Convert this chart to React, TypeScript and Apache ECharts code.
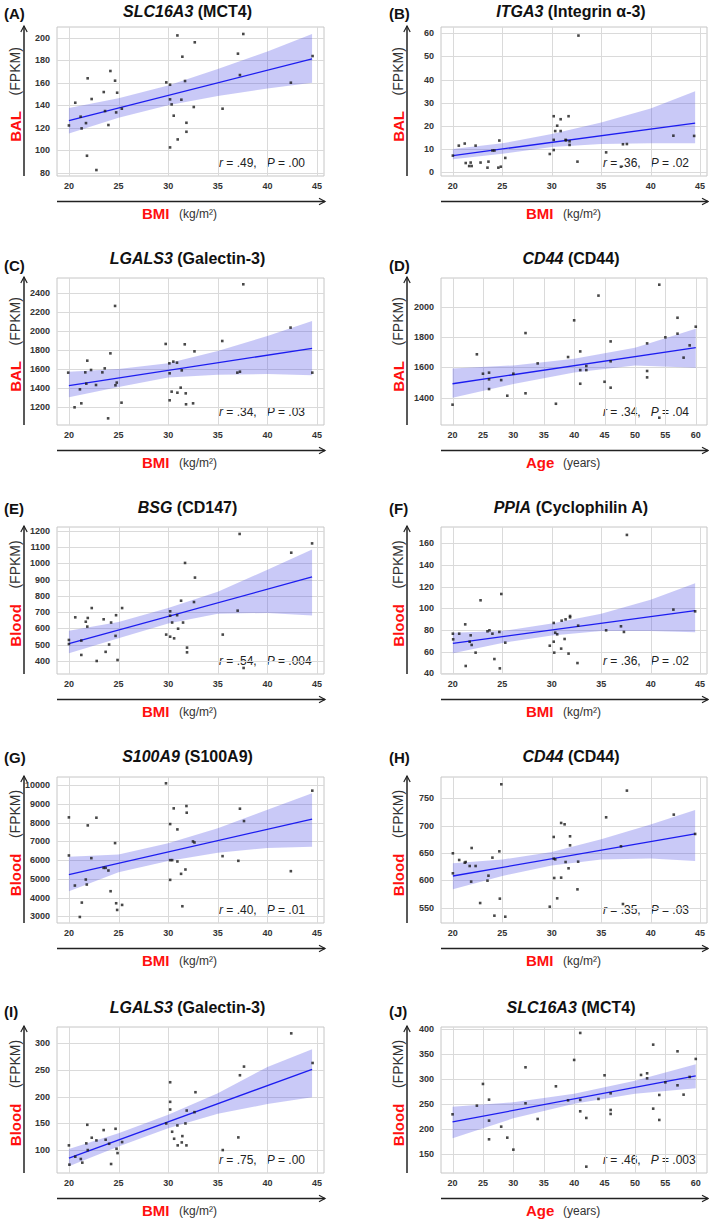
import React, { useEffect, useRef } from "react";
import * as echarts from "echarts";

const FONT = '"Liberation Sans", Arial, Helvetica, sans-serif';

// ---------- shared ticks ----------
const bmiTicks = [20, 25, 30, 35, 40, 45];
const ageTicks = [20, 25, 30, 35, 40, 45, 50, 55, 60];
const bmiBandX = [20, 25, 30, 35, 40, 44.5];
const ageBandX = [20, 30, 40, 50, 60];
const bmiFitX = [20, 44.5];
const ageFitX = [20, 60];

// ---------- (A) BAL SLC16A3 vs BMI ----------
const aX = [20.0, 20.64, 21.18, 21.28, 21.72, 21.89, 21.82, 22.29, 22.77, 23.51, 23.64, 23.98, 24.18, 24.65, 24.76, 24.86, 25.33, 29.81, 30.19, 30.19, 30.19, 30.35, 30.56, 30.93, 30.96, 31.33, 31.43, 31.7, 31.84, 31.84, 32.58, 32.68, 35.48, 37.03, 37.23, 37.57, 42.36, 44.55];
const aY = [122, 142.2, 129.8, 119.4, 124.1, 163.9, 95.1, 145.5, 82.4, 151.7, 134.8, 122.4, 170.4, 161.8, 133.6, 151.1, 136.9, 160.3, 158.2, 145.2, 102.5, 140.7, 130.7, 202, 109.6, 144.9, 183.1, 161.5, 124.4, 116.4, 138.4, 195.9, 136.9, 185.8, 166.8, 203.3, 160, 183.7];
const aTicks = [80, 100, 120, 140, 160, 180, 200];
const aFit = [126.2, 181.2];
const aLo = [114.8, 128.8, 140, 148.1, 154.8, 159.9];
const aHi = [137.6, 146.2, 157.6, 172.1, 187.8, 203.3];

// ---------- (B) BAL ITGA3 vs BMI ----------
const bX = [20, 20.6, 21.2, 21.3, 21.65, 21.8, 21.9, 22.3, 22.8, 23.5, 23.6, 24.0, 24.2, 24.7, 24.6, 24.85, 25.3, 29.8, 30.2, 30.2, 30.2, 30.35, 30.55, 30.9, 30.9, 31.4, 31.45, 31.7, 31.8, 31.8, 32.6, 32.7, 35.5, 37.0, 37.2, 37.6, 42.3, 44.4];
const bY = [7.2, 11.5, 12.4, 4.0, 2.7, 4.2, 2.7, 11.5, 4.2, 2.0, 4.6, 9.4, 9.4, 13.7, 2.0, 2.4, 6.2, 7.9, 14.0, 9.6, 24.2, 17.8, 20.1, 22.9, 17.8, 14.0, 13.8, 24.2, 13.4, 11.8, 4.6, 59, 8.6, 2.4, 12.1, 12.2, 15.8, 15.7];
const bTicks = [0, 10, 20, 30, 40, 50, 60];
const bFit = [7.2, 21.2];
const bLo = [5.6, 8.0, 10.9, 12.2, 12.5, 12.5];
const bHi = [10.1, 12.5, 16.5, 21.5, 27.5, 35.0];

// ---------- (C) BAL LGALS3 vs BMI ----------
const cX = [19.93, 20.57, 21.11, 21.25, 21.65, 21.85, 21.75, 22.23, 22.73, 23.37, 23.61, 23.95, 24.18, 24.65, 24.69, 24.82, 25.3, 29.75, 30.12, 30.15, 30.15, 30.35, 30.52, 30.89, 30.93, 31.26, 31.37, 31.67, 31.77, 31.8, 32.51, 32.65, 35.45, 36.97, 37.23, 37.57, 42.33, 44.52];
const cY = [1565, 1200, 1389, 1242, 1568, 1691, 1449, 1593, 1435, 1568, 1610, 1084, 1768, 2267, 1432, 1460, 1249, 1867, 1663, 1558, 1274, 1365, 1681, 1670, 1354, 1407, 1589, 1863, 1347, 1232, 1242, 1789, 1898, 1565, 1575, 2495, 2039, 1565];
const cTicks = [1200, 1400, 1600, 1800, 2000, 2200, 2400];
const cFit = [1428, 1821];
const cLo = [1305, 1413, 1513, 1543, 1550, 1537];
const cHi = [1575, 1603, 1663, 1793, 1950, 2109];

// ---------- (D) BAL CD44 vs Age ----------
const dX = [20, 24, 25, 26, 26, 26, 28, 29, 30, 32, 32, 34, 37, 39, 40, 41, 41, 41, 42, 42, 44, 45, 46, 46, 46, 52, 52, 52, 54, 54, 55, 57, 57, 58, 59, 60];
const dY = [1354, 1686, 1558, 1565, 1521, 1457, 1516, 1413, 1558, 1826, 1429, 1626, 1360, 1668, 1910, 1705, 1582, 1492, 1609, 1582, 2073, 1505, 1771, 1640, 1466, 1758, 1576, 1534, 2145, 1268, 1798, 1927, 1822, 1664, 1745, 1868];
const dTicks = [1400, 1600, 1800, 2000];
const dFit = [1492, 1730];
const dLo = [1400, 1490, 1566, 1612, 1598];
const dHi = [1593, 1613, 1656, 1730, 1855];

// ---------- (E) Blood BSG vs BMI ----------
const eX = [20, 20, 20.64, 21.25, 21.25, 21.7, 21.85, 21.9, 22.3, 22.8, 23.5, 23.7, 24.05, 24.25, 24.75, 24.7, 24.9, 25.36, 29.8, 30.2, 30.2, 30.2, 30.4, 30.6, 30.9, 31.0, 31.3, 31.5, 31.7, 31.9, 31.9, 32.6, 32.7, 35.5, 37.0, 37.2, 37.6, 42.4, 44.5];
const eY = [529, 504, 668, 525, 437, 641, 611, 664, 725, 400, 656, 456, 501, 636, 681, 554, 406, 725, 562, 705, 549, 678, 636, 539, 681, 598, 770, 636, 1002, 482, 453, 762, 912, 562, 709, 1180, 357, 1065, 1122];
const eTicks = [400, 500, 600, 700, 800, 900, 1000, 1100, 1200];
const eFit = [507, 916];
const eLo = [447, 540, 630, 690, 695, 680];
const eHi = [586, 640, 725, 825, 960, 1085];

// ---------- (F) Blood PPIA vs BMI ----------
const fX = [20, 20.03, 20.64, 21.25, 21.3, 21.8, 21.7, 21.9, 22.3, 22.8, 23.5, 23.7, 24.0, 24.2, 24.7, 24.75, 24.9, 25.3, 29.8, 30.2, 30.2, 30.25, 30.35, 30.55, 30.95, 31.0, 31.3, 31.4, 31.7, 31.85, 31.85, 32.6, 32.67, 35.5, 37.0, 37.3, 37.6, 42.3, 44.5];
const fY = [76.6, 71.4, 76.6, 85.2, 46.8, 75.1, 69.2, 66.2, 59.1, 107.4, 78.8, 79.7, 76.6, 53.2, 78.2, 44.6, 113.2, 68.3, 65.5, 86.5, 69.2, 59.1, 77.5, 76, 62.8, 88.6, 71.7, 89.8, 58.2, 91.7, 92.9, 49.5, 84, 79.7, 83.4, 78.2, 167.7, 98.8, 97.2];
const fTicks = [40, 60, 80, 100, 120, 140, 160];
const fFit = [67.7, 97.8];
const fLo = [58.5, 68, 75, 79, 79, 78];
const fHi = [77.5, 79, 86, 95, 108, 123];

// ---------- (G) Blood S100A9 vs BMI ----------
const gX = [20, 20, 20.6, 21.1, 21.3, 21.7, 21.8, 21.9, 22.26, 22.77, 23.5, 23.7, 23.98, 24.2, 24.65, 24.76, 24.86, 25.36, 29.78, 30.2, 30.2, 30.4, 30.2, 30.56, 30.93, 30.93, 31.3, 31.43, 31.74, 31.84, 31.87, 32.5, 32.65, 35.48, 37.07, 37.23, 37.64, 42.36, 44.52];
const gY = [8286, 6250, 4643, 2964, 3732, 4964, 4696, 7857, 6107, 8268, 5589, 5589, 5446, 4339, 6911, 3696, 3339, 3607, 10107, 7929, 6000, 6000, 4946, 8768, 7643, 5929, 5268, 3536, 5500, 8893, 8536, 7000, 6946, 6214, 5964, 8750, 8089, 5411, 9714];
const gTicks = [3000, 4000, 5000, 6000, 7000, 8000, 9000, 10000];
const gFit = [5232, 8196];
const gLo = [4339, 5350, 5950, 6400, 6650, 6714];
const gHi = [6179, 6300, 6900, 7700, 8700, 9571];

// ---------- (H) Blood CD44 vs BMI ----------
const hX = [20, 20, 20.64, 21.2, 21.3, 21.7, 21.85, 21.9, 22.3, 22.76, 23.5, 23.6, 24.0, 24.2, 24.7, 24.75, 24.9, 25.3, 29.8, 30.2, 30.2, 30.35, 30.25, 30.55, 30.95, 30.95, 31.3, 31.4, 31.7, 31.85, 31.85, 32.6, 32.67, 35.5, 37.0, 37.2, 37.6, 42.34, 44.5];
const hY = [649.4, 612.8, 637.2, 632.3, 633.5, 626.2, 597.6, 659.1, 626.2, 558.5, 599.4, 608.5, 641.5, 535.4, 653, 566.5, 775.6, 533.5, 551.8, 679.3, 639.6, 638.4, 604.3, 567.1, 704.9, 604.9, 702.4, 633.5, 622, 680.5, 664, 583.5, 634.1, 715.2, 662.2, 556.7, 764, 720.1, 684.8];
const hTicks = [550, 600, 650, 700, 750];
const hFit = [607.9, 684.8];
const hLo = [583.5, 608, 627, 638, 640, 635.4];
const hHi = [631, 638, 652, 675, 702, 728.7];

// ---------- (I) Blood LGALS3 vs BMI ----------
const iX = [20, 20.05, 20.64, 21.2, 21.35, 21.75, 21.85, 21.9, 22.3, 22.77, 23.5, 23.7, 24.05, 24.25, 24.7, 24.8, 24.9, 25.36, 29.8, 30.2, 30.2, 30.2, 30.4, 30.6, 30.93, 30.96, 31.37, 31.43, 31.74, 31.84, 31.87, 32.65, 32.75, 35.5, 37.07, 37.23, 37.64, 42.4, 44.55];
const iY = [109.3, 73.5, 88.3, 84, 77.2, 113, 147.5, 100.6, 123.5, 118.5, 137.7, 119.8, 112.3, 74.7, 140.1, 103.1, 95, 115.4, 150, 226.5, 190.1, 175.9, 134.6, 121.6, 146.3, 109.3, 114.8, 126.5, 150, 109.3, 174, 171, 208, 100.6, 124.1, 239.5, 255.6, 317.3, 262.3];
const iTicks = [100, 150, 200, 250, 300];
const iFit = [85.8, 250.5];
const iLo = [70.4, 107, 141, 168, 186, 198.8];
const iHi = [102.5, 132, 166, 206, 255, 287.7];

// ---------- (J) Blood SLC16A3 vs Age ----------
const jX = [20, 24, 25, 26, 26, 26, 28, 29, 30, 32, 32, 34, 37, 39, 40, 41, 41, 41, 42, 42, 44, 45, 46, 46, 46, 51, 52, 52, 53, 53, 54, 54, 55, 57, 57, 58, 59, 60];
const jY = [230, 247.3, 290.7, 259.3, 217.3, 180, 205.3, 183.3, 159.3, 324, 252, 220.7, 286, 258, 338.7, 392.7, 258.7, 236, 222.7, 125.3, 260.7, 308, 272, 238.7, 230.7, 308.7, 312, 302, 369.3, 241.3, 268.7, 218.7, 294, 356, 288, 269.3, 304.7, 340.7];
const jTicks = [150, 200, 250, 300, 350, 400];
const jFit = [214.7, 306.7];
const jLo = [182, 222, 251, 271, 282];
const jHi = [245.3, 254, 271, 297, 330];

// ---------- panel text ----------
const letters = ["A", "B", "C", "D", "E", "F", "G", "H", "I", "J"];
const genes = ["SLC16A3", "ITGA3", "LGALS3", "CD44", "BSG", "PPIA", "S100A9", "CD44", "LGALS3", "SLC16A3"];
const proteins = ["MCT4", "Integrin α-3", "Galectin-3", "CD44", "CD147", "Cyclophilin A", "S100A9", "CD44", "Galectin-3", "MCT4"];
const samples = ["BAL", "BAL", "BAL", "BAL", "Blood", "Blood", "Blood", "Blood", "Blood", "Blood"];
const rVals = [".49", ".36", ".34", ".34", ".54", ".36", ".40", ".35", ".75", ".46"];
const pVals = [".00", ".02", ".03", ".04", ".004", ".02", ".01", ".03", ".00", ".003"];
const isAge = [false, false, false, true, false, false, false, false, false, true];
const yRanges = [
  [77.1, 209.5], [-1.6, 62.7], [1014, 2561], [1220, 2189], [320, 1222.7],
  [39.4, 175], [2641, 10444], [522, 788.9], [58, 329.1], [112.6, 404.6],
];

const panelsData = [
  { xs: aX, ys: aY, ticks: aTicks, fit: aFit, lo: aLo, hi: aHi },
  { xs: bX, ys: bY, ticks: bTicks, fit: bFit, lo: bLo, hi: bHi },
  { xs: cX, ys: cY, ticks: cTicks, fit: cFit, lo: cLo, hi: cHi },
  { xs: dX, ys: dY, ticks: dTicks, fit: dFit, lo: dLo, hi: dHi },
  { xs: eX, ys: eY, ticks: eTicks, fit: eFit, lo: eLo, hi: eHi },
  { xs: fX, ys: fY, ticks: fTicks, fit: fFit, lo: fLo, hi: fHi },
  { xs: gX, ys: gY, ticks: gTicks, fit: gFit, lo: gLo, hi: gHi },
  { xs: hX, ys: hY, ticks: hTicks, fit: hFit, lo: hLo, hi: hHi },
  { xs: iX, ys: iY, ticks: iTicks, fit: iFit, lo: iLo, hi: iHi },
  { xs: jX, ys: jY, ticks: jTicks, fit: jFit, lo: jLo, hi: jHi },
];

// ---------- layout ----------
const rows = [
  { top: 27, h: 149, titleY: 11, letterY: 13 },
  { top: 278, h: 147, titleY: 258, letterY: 265 },
  { top: 527, h: 147, titleY: 507, letterY: 508 },
  { top: 777, h: 146, titleY: 756, letterY: 757 },
  { top: 1027, h: 146, titleY: 1007, letterY: 1011 },
];
const cols = [
  { left: 57, w: 267, arrowX: 24, labelX: 15, letterX: 4 },
  { left: 441, w: 266, arrowX: 407, labelX: 398, letterX: 389 },
];

function buildOption() {
  const grid: any[] = [];
  const xAxis: any[] = [];
  const yAxis: any[] = [];
  const series: any[] = [];
  const graphic: any[] = [];
  const INK = "#222";
  const GRIDLINE = "#dadada";

  panelsData.forEach((p, i) => {
    const col = cols[i % 2];
    const row = rows[Math.floor(i / 2)];
    const L = col.left, W = col.w, T = row.top, H = row.h;
    const B = T + H, R = L + W;
    const age = isAge[i];
    const xTicks = age ? ageTicks : bmiTicks;
    const bandX = age ? ageBandX : bmiBandX;
    const fitX = age ? ageFitX : bmiFitX;
    const xMin = age ? 18.1 : 18.8;
    const xMax = age ? 61.85 : 45.7;
    const [yMin, yMax] = yRanges[i];

    grid.push({
      left: L, top: T, width: W, height: H,
      show: true, backgroundColor: "#fff", borderColor: "#c6c6c6", borderWidth: 1,
      containLabel: false, outerBoundsMode: "none",
    });
    const labelStyle = { fontSize: 9, fontWeight: "bold", fontFamily: FONT, color: "#333", formatter: (v: number) => String(v) };
    xAxis.push({
      type: "value", gridIndex: i, min: xMin, max: xMax,
      axisLine: { show: false },
      axisTick: { show: false, customValues: xTicks },
      axisLabel: { ...labelStyle, customValues: xTicks, margin: 5 },
      splitLine: { show: false },
    });
    yAxis.push({
      type: "value", gridIndex: i, min: yMin, max: yMax,
      axisLine: { show: false },
      axisTick: { show: false, customValues: p.ticks },
      axisLabel: { ...labelStyle, customValues: p.ticks, margin: 7 },
      splitLine: { show: false },
    });

    // vertical grid lines at x ticks
    series.push({
      type: "custom", xAxisIndex: i, yAxisIndex: i, silent: true, z: 1,
      data: xTicks.map((v) => [v, yMin]),
      renderItem: (params: any, api: any) => {
        const cs = params.coordSys;
        const x = Math.round(api.coord([api.value(0), api.value(1)])[0]) + 0.5;
        return { type: "line", shape: { x1: x, y1: cs.y, x2: x, y2: cs.y + cs.height }, style: { stroke: GRIDLINE, lineWidth: 1 } };
      },
    });
    // horizontal grid lines at y ticks
    series.push({
      type: "custom", xAxisIndex: i, yAxisIndex: i, silent: true, z: 1,
      data: p.ticks.map((v) => [xMin, v]),
      renderItem: (params: any, api: any) => {
        const cs = params.coordSys;
        const y = Math.round(api.coord([api.value(0), api.value(1)])[1]) + 0.5;
        return { type: "line", shape: { x1: cs.x, y1: y, x2: cs.x + cs.width, y2: y }, style: { stroke: GRIDLINE, lineWidth: 1 } };
      },
    });
    // confidence band
    series.push({
      type: "custom", xAxisIndex: i, yAxisIndex: i, silent: true, z: 2,
      data: bandX.map((x, k) => [x, p.lo[k], p.hi[k]]),
      encode: { x: 0, y: [1, 2] },
      renderItem: (params: any, api: any) => {
        if (params.dataIndex !== 0) return null;
        const up = bandX.map((x, k) => api.coord([x, p.hi[k]]));
        const dn = bandX.map((x, k) => api.coord([x, p.lo[k]])).reverse();
        return { type: "polygon", shape: { points: up.concat(dn) }, style: { fill: "rgba(75,75,230,0.3)" } };
      },
    });
    series.push({
      type: "line", xAxisIndex: i, yAxisIndex: i, z: 3,
      data: fitX.map((x, k) => [x, p.fit[k]]),
      symbol: "none", silent: true,
      lineStyle: { color: "#1c1cf0", width: 1.3 },
    });
    series.push({
      type: "scatter", xAxisIndex: i, yAxisIndex: i, z: 4,
      data: p.xs.map((x, k) => [x, p.ys[k]]),
      symbol: "rect", symbolSize: 2.6,
      itemStyle: { color: "#1a1a1a" },
    });

    // panel letter
    graphic.push({
      type: "text", x: col.letterX, y: row.letterY,
      style: { text: `(${letters[i]})`, font: `bold 15px ${FONT}`, fill: "#111", align: "left", verticalAlign: "middle" },
    });
    // title
    graphic.push({
      type: "text", x: L + W / 2 - 3, y: row.titleY,
      style: {
        text: `{g|${genes[i]}}{b| (${proteins[i]})}`,
        align: "center", verticalAlign: "middle",
        rich: {
          g: { fontStyle: "italic", fontWeight: "bold", fontSize: 16, fontFamily: FONT, fill: "#111" },
          b: { fontWeight: "bold", fontSize: 16, fontFamily: FONT, fill: "#111" },
        },
      },
    });
    // y arrow
    graphic.push({ type: "line", shape: { x1: col.arrowX, y1: B, x2: col.arrowX, y2: T - 1 }, style: { stroke: INK, lineWidth: 1.5 } });
    graphic.push({
      type: "polyline",
      shape: { points: [[col.arrowX - 3.2, T + 5], [col.arrowX, T - 1], [col.arrowX + 3.2, T + 5]] },
      style: { stroke: INK, lineWidth: 1.2, fill: null },
    });
    // x arrow
    const ay = B + 25.5;
    graphic.push({ type: "line", shape: { x1: L, y1: ay, x2: R + 1, y2: ay }, style: { stroke: INK, lineWidth: 1.5 } });
    graphic.push({
      type: "polyline",
      shape: { points: [[R - 5, ay - 3.2], [R + 1, ay], [R - 5, ay + 3.2]] },
      style: { stroke: INK, lineWidth: 1.2, fill: null },
    });
    // y label
    graphic.push({
      type: "text", x: col.labelX, y: T + H / 2 - 7, rotation: Math.PI / 2,
      style: {
        text: `{r|${samples[i]}}{u|    (FPKM)}`,
        align: "center", verticalAlign: "middle",
        rich: {
          r: { fontSize: 15, fontWeight: "bold", fontFamily: FONT, fill: "#ff1010" },
          u: { fontSize: 14, fontFamily: FONT, fill: "#333" },
        },
      },
    });
    // x label
    graphic.push({
      type: "text", x: L + 85, y: B + 37,
      style: { text: age ? "Age" : "BMI", font: `bold 15px ${FONT}`, fill: "#ff1010", align: "left", verticalAlign: "middle" },
    });
    graphic.push({
      type: "text", x: L + 122, y: B + 38,
      style: { text: age ? "(years)" : "(kg/m²)", font: `12px ${FONT}`, fill: "#333", align: "left", verticalAlign: "middle" },
    });
    // stats
    graphic.push({
      type: "text", x: L + 162, y: B - 13,
      style: {
        text: `{i|r}{n| = ${rVals[i]},   }{i|P}{n| = ${pVals[i]}}`,
        align: "left", verticalAlign: "middle",
        rich: {
          i: { fontStyle: "italic", fontSize: 12, fontFamily: FONT, fill: "#222" },
          n: { fontSize: 12, fontFamily: FONT, fill: "#222" },
        },
      },
    });
  });

  return { animation: false, backgroundColor: "#fff", grid, xAxis, yAxis, series, graphic };
}

export default function App() {
  const ref = useRef<HTMLDivElement>(null);
  useEffect(() => {
    const chart = echarts.init(ref.current!, null, { renderer: "svg" });
    chart.setOption(buildOption() as any);
    return () => chart.dispose();
  }, []);
  return (
    <div
      ref={ref}
      style={{ position: "absolute", left: 0, top: 0, width: 709, height: 1219, background: "#fff" }}
    />
  );
}
